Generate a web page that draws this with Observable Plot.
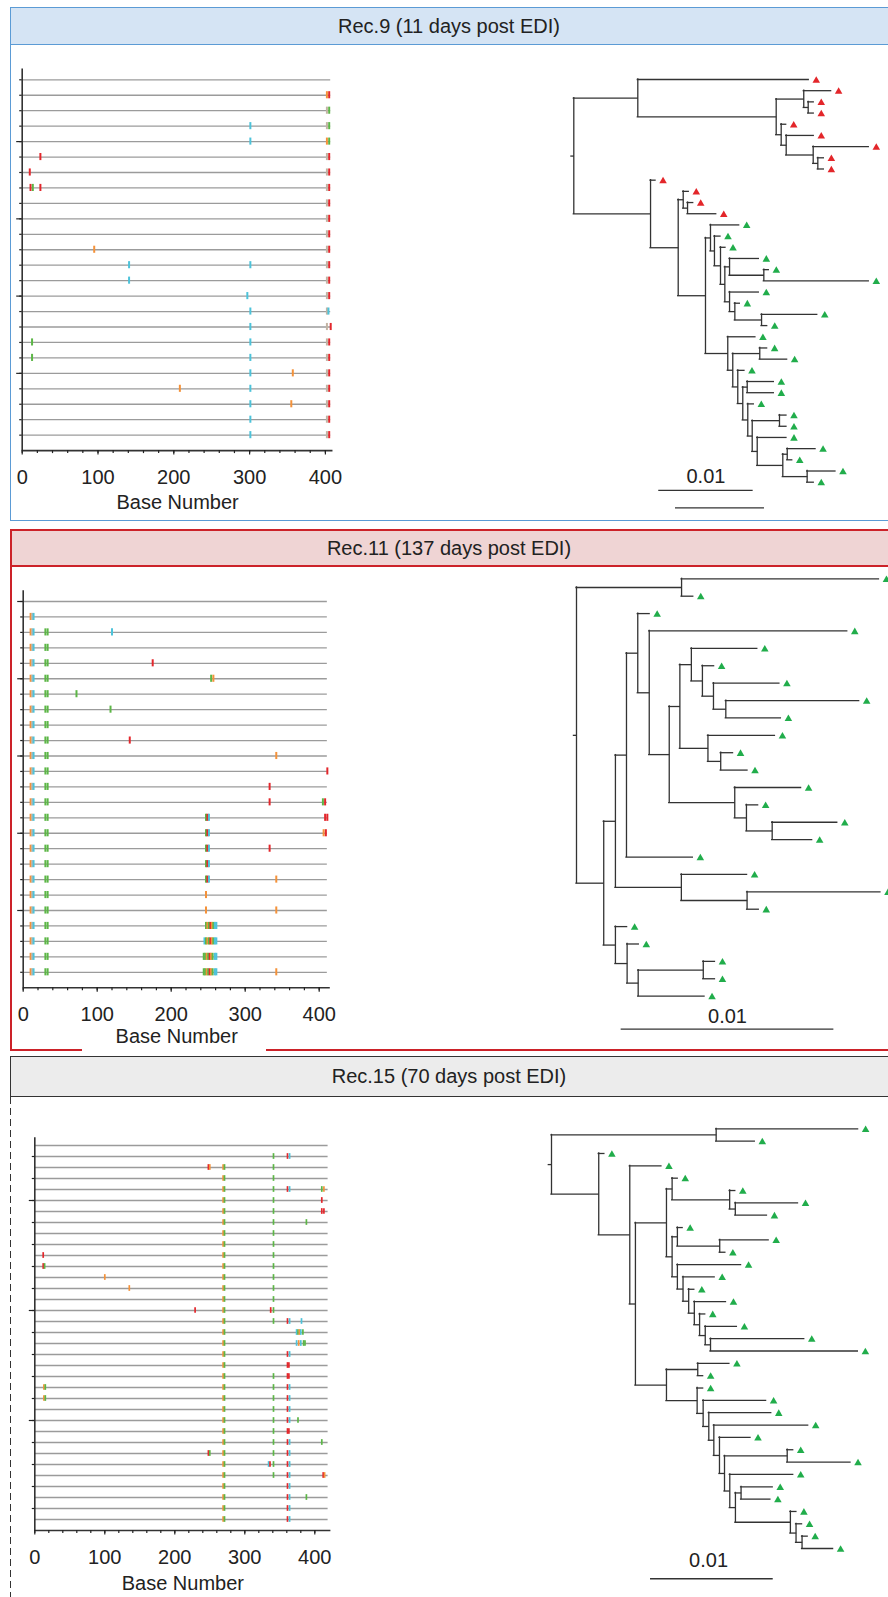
<!DOCTYPE html>
<html><head><meta charset="utf-8">
<script src="https://cdn.jsdelivr.net/npm/d3@7"></script>
<script src="https://cdn.jsdelivr.net/npm/@observablehq/plot@0.6"></script>
<style>
body{margin:0;background:#fff;}
#page{position:relative;width:888px;height:1597px;overflow:hidden;font-family:"Liberation Sans",Arial,Helvetica,sans-serif;color:#222;background:#fff;}
.abs{position:absolute;box-sizing:border-box;}
.htxt{position:absolute;display:flex;align-items:center;justify-content:center;font-size:20px;color:#222;}
</style></head>
<body><div id="page">
<div class="abs" style="left:10px;top:7px;width:900px;height:514px;border:1.6px solid #5b9bd5;"></div>
<div class="abs" style="left:10px;top:7px;width:900px;height:38px;background:#d5e4f4;border:1.6px solid #5b9bd5;"></div>
<div class="htxt" style="left:10px;top:7px;width:878px;height:38px;">Rec.9 (11 days post EDI)</div>

<div class="abs" style="left:10px;top:529px;width:900px;height:522px;border:2px solid #cc2229;"></div>
<div class="abs" style="left:10px;top:529px;width:900px;height:38px;background:#efd4d4;border:2px solid #cc2229;"></div>
<div class="htxt" style="left:10px;top:529px;width:878px;height:38px;">Rec.11 (137 days post EDI)</div>
<div class="abs" style="left:82px;top:1046px;width:184px;height:8px;background:#fff;"></div>

<div class="abs" style="left:10px;top:1056px;width:900px;height:41px;background:#ececec;border:1.3px solid #333;"></div>
<div class="htxt" style="left:10px;top:1056px;width:878px;height:41px;">Rec.15 (70 days post EDI)</div>
<div class="abs" style="left:10px;top:1097px;width:1.3px;height:500px;background:repeating-linear-gradient(to bottom,#333 0px,#333 7px,transparent 7px,transparent 11px);"></div>
</div>
<script>
// ---------- DATA ----------
// Highlighter rows: mutation codes (type + base number), "-" = gap
const rec9Rows = [
  "", "G402 T405", "-402 A405", "C301 -402 A405", "C301 G402 A405", "T24 -402 T405",
  "T10 -402 T405", "T11 A14 T24 -402 T405", "-402 T405", "-402 T405", "-402 T405", "G95 -402 T405",
  "C141 C301 -402 T405", "C141 -402 T405", "C297 -402 T405", "C301 -402 C404", "C301 -402 T407", "A13 C301 -402 T405",
  "A13 C301 -402 T405", "C301 G357 -402 T405", "G208 C301 -402 T405", "C301 G355 -402 T405", "C301 -402 T405", "C301 -402 T405"
];
const rec11Rows = [
  "", "G10 -12 C14",
  "G10 -12 C14 A30 A33 C120", "G10 -12 C14 A30 A33", "G10 -12 C14 A30 A33 T175",
  "G10 -12 C14 A30 A33 A254 G257", "G10 -12 C14 A30 A33 A72", "G10 -12 C14 A30 A33 A118",
  "G10 -12 C14 A30 A33", "G10 -12 C14 A30 A33 T144", "G10 -12 C14 A30 A33 G342",
  "G10 -12 C14 A30 A33 T411", "G10 -12 C14 A30 A33 T333", "G10 -12 C14 A30 A33 T333 A405 T408",
  "G10 -12 C14 A30 A33 A247 T249 C251 T408 T411", "G10 -12 C14 A30 A33 A247 T249 C251 G406 T409",
  "G10 -12 C14 A30 A33 A247 T249 C251 T333", "G10 -12 C14 A30 A33 A247 T249 C251",
  "G10 -12 C14 A30 A33 A247 T249 C251 G342", "G10 -12 C14 A30 A33 G247", "G10 -12 C14 A30 A33 G247 G342",
  "G10 -12 C14 A30 A33 A247 G249 A251 T253 G255 A257 C259 C261",
  "G10 -12 C14 A30 A33 C245 A247 G249 A251 T253 G255 A257 C259 C261",
  "G10 -12 C14 A30 A33 A244 A246 G248 A250 T252 G254 A256 C259 C261",
  "G10 -12 C14 A30 A33 A244 A246 G248 A250 T252 G254 A256 C259 C261 G342"
];
const rec15Rows = [
  "", "A341 T361 C364", "T248 G250 G269 A271 A341", "G269 A271 A341",
  "G269 A271 A341 T361 C364 A410 G413", "G269 A271 A341 T410", "G269 A271 A341 T410 T413",
  "G269 A271 A341 A388", "G269 A271 A341", "G269 A271 A341", "T12 G269 A271 A341",
  "T12 A14 G269 A271 A341", "G100 G269 A271 A341", "G135 G269 A271 A341", "G269 A271 A341",
  "T229 G269 A271 T337 A341", "G269 A271 A341 T361 C364 C381", "G269 A271 C374 A376 G378 C380 A383",
  "G269 A271 C374 G377 C380 A384 A386", "G269 A271 T361 C364", "G269 A271 T361 T363",
  "G269 A271 A341 T361 T363", "G13 A15 G269 A271 A341 T361 C364", "G13 A15 G269 A271 A341 T361 C364",
  "G269 A271 A341 T361 C364", "G269 A271 A341 T361 C364 A376", "G269 A271 A341 T361 T363",
  "G269 A271 A341 T361 C364 A410", "T248 A250 G269 A271 A341 T361 C364", "G269 A271 C334 T336 A341 T361 C364",
  "G269 A271 A341 T361 C364 T412 G414", "G269 A271 T361 C364", "G269 A271 T361 C364 A388",
  "G269 A271 T361 C364", "G269 A271 T361 C364"
];
const majorTicks = [0, 100, 200, 300, 400];
const minorTicks = d3.range(0, 401, 20);
const rec9TickRows = d3.range(0, 24), rec9LongRows = [4, 9, 14, 19];
const rec11TickRows = d3.range(0, 25), rec11LongRows = [0, 5, 10, 15, 20];
const rec15TickRows = d3.range(1, 35, 2), rec15LongRows = [5, 15, 25];

// Trees (Newick, branch lengths in units of 0.001 substitutions/site; r = red, g = green tip)
const rec9Tree = "((r:18.11,((r:2.90,(r:0.59,r:0.59):0.47):2.92,(r:0.53,(r:2.92,(r:5.89,(r:0.64,r:0.64):0.49):2.86):0.53):0.53):14.66):6.78,(r:0.53,((r:0.59,(r:0.60,r:3.04):0.46):0.53,((g:3.04,(g:0.64,(g:0.53,((g:3.10,(g:0.53,g:11.12):3.63):0.50,(g:3.10,(g:0.53,(g:5.90,g:0.60):2.83):0.56):0.50):0.46):0.64):0.42):0.53,(g:2.93,((g:0.78,g:2.90):2.86,(g:0.71,((g:2.82,g:2.82):0.47,(g:0.64,((g:0.74,g:0.74):2.89,(g:3.10,((g:3.00,g:0.53):0.47,(g:3.00,g:0.70):2.58):2.71):0.53):0.47):0.53):0.53):0.53):0.53):2.36):2.89):2.93):8.13);";
const rec11Tree = "((g:9.28,g:0.55):4.94,((((g:0.56,(g:9.31,(((g:3.10,(g:0.55,(g:3.10,(g:6.27,g:2.59):0.58):0.52):0.52):0.54,(g:3.15,(g:0.58,g:1.26):0.60):1.32):0.50,(g:3.12,(g:0.55,(g:3.06,g:1.88):1.21):0.55):3.08):0.94):0.54):0.53,g:3.12):0.52,(g:3.09,(g:6.27,g:0.55):3.09):3.10):0.55,(g:0.55,(g:0.55,((g:0.55,g:0.55):3.06,g:3.12):0.52):0.55):0.55):1.28);";
const rec15Tree = "((g:11.57,g:3.15):13.42,(g:0.46,(g:2.58,(((g:0.46,(g:0.46,(g:5.11,g:2.58):0.46):4.69):0.46,((g:0.43,(g:3.99,g:0.46):3.45):0.43,(g:5.19,(g:2.58,(g:0.46,(g:2.58,(g:0.46,(g:2.58,(g:7.64,g:12.01):0.43):0.46):0.43):0.46):0.46):0.46):0.43):0.46):2.53,((g:2.58,g:0.44):2.55,(g:0.49,(g:5.13,(g:5.09,(g:7.69,(g:2.53,((g:0.49,g:5.16):5.11,(g:5.17,((g:2.58,g:2.39):0.46,(g:0.49,(g:0.49,(g:0.46,g:2.53):0.49):0.46):4.48):0.46):0.43):0.41):0.46):0.41):0.46):0.49):2.50):2.53):0.46):2.53):3.85);";
const scaleBarValue = "0.01";

// ---------- DRAWING ----------
const FONT = '"Liberation Sans", Arial, Helvetica, sans-serif';
const TYPE_COLORS = {A: "#5cb646", C: "#4dc3da", G: "#f4923a", T: "#e3272c", "-": "#c2b4a4"};
const page = document.getElementById("page");
function place(svg, left, top) {
  svg.style.position = "absolute"; svg.style.left = left + "px"; svg.style.top = top + "px";
  page.appendChild(svg);
}
function parseMuts(rows) {
  const out = [];
  rows.forEach((s, i) => s.split(/\s+/).filter(Boolean).forEach(t => out.push({row: i, type: t[0], base: +t.slice(1)})));
  return out;
}
function highlighter(c) {
  const n = c.rows.length, muts = parseMuts(c.rows), top0 = -0.7;
  const mL = c.axisPx - c.left;
  const mR = c.width - (mL + c.axisLen * c.ppb);
  const mT = c.row0Px - c.top + top0 * c.rowStep;
  const mB = c.height - (c.row0Px - c.top + n * c.rowStep);
  const svg = Plot.plot({
    width: c.width, height: c.height, marginLeft: mL, marginRight: mR, marginTop: mT, marginBottom: mB,
    x: {domain: [0, c.axisLen]}, y: {domain: [top0, n], reverse: true}, color: {type: "identity"},
    style: {fontFamily: FONT, fontSize: "20px", color: "#222", background: "transparent", overflow: "visible"},
    marks: [
      Plot.ruleY(d3.range(n), {y: d => d, x1: 0, x2: c.seqLen, stroke: "#9b9b9b", strokeWidth: 1.3}),
      Plot.ruleX(muts, {x: "base", y1: d => d.row - c.tickHalf, y2: d => d.row + c.tickHalf, stroke: d => TYPE_COLORS[d.type], strokeWidth: c.mutWidth}),
      Plot.ruleX([0], {stroke: "#333", strokeWidth: 1.6}),
      Plot.ruleY([n], {stroke: "#333", strokeWidth: 1.6}),
      Plot.axisX({ticks: minorTicks, tickSize: 3, tickFormat: () => "", label: null, strokeWidth: 1.2}),
      Plot.axisX({ticks: majorTicks, tickSize: 4.5, tickPadding: 15, label: null, fontSize: 20, strokeWidth: 1.2}),
      Plot.axisY({ticks: c.yTicks, tickSize: 2.5, tickFormat: () => "", label: null, strokeWidth: 1.2}),
      Plot.axisY({ticks: c.yLong, tickSize: 5.5, tickFormat: () => "", label: null, strokeWidth: 1.2}),
      Plot.text(["Base Number"], {text: d => d, frameAnchor: "bottom", lineAnchor: "middle", dy: c.labelDy, fontSize: 20, fill: "#222"})
    ]
  });
  place(svg, c.left, c.top);
}
function parseNewick(s) {
  let i = 0;
  function node() {
    const nd = {children: []};
    if (s[i] === "(") {
      i++; nd.children.push(node());
      while (s[i] === ",") { i++; nd.children.push(node()); }
      i++;
    }
    let name = "";
    while (i < s.length && !",():;".includes(s[i])) name += s[i++];
    nd.name = name.trim();
    nd.length = 0;
    if (s[i] === ":") { i++; let num = ""; while (i < s.length && !",();".includes(s[i])) num += s[i++]; nd.length = +num; }
    return nd;
  }
  return node();
}
function tree(c) {
  const root = parseNewick(c.newick);
  const nodes = [], leaves = [];
  (function walk(nd, x) { nd.x = x; nodes.push(nd);
    if (nd.children.length) nd.children.forEach(ch => walk(ch, x + ch.length));
    else { nd.y = leaves.length; leaves.push(nd); } })(root, 0);
  (function setY(nd) { if (nd.children.length) { nd.children.forEach(setY);
    nd.y = (nd.children[0].y + nd.children[nd.children.length - 1].y) / 2; } })(root);
  const hSeg = [], vSeg = [];
  nodes.forEach(nd => {
    nd.children.forEach(ch => hSeg.push({x1: nd.x, x2: ch.x, y: ch.y}));
    if (nd.children.length) vSeg.push({x: nd.x, y1: nd.children[0].y, y2: nd.children[nd.children.length - 1].y});
  });
  hSeg.push({x1: -c.stub, x2: 0, y: root.y});
  const n = leaves.length;
  const x0 = c.rootPx - c.left, y0 = c.leaf0Px - c.top;
  const svg = Plot.plot({
    width: c.width, height: c.height, margin: 0,
    x: {domain: [0, 10], range: [x0, x0 + 10 * c.ppu], axis: null},
    y: {domain: [0, n - 1], range: [y0, y0 + (n - 1) * c.leafStep], axis: null},
    style: {fontFamily: FONT, fontSize: "20px", color: "#222", background: "transparent", overflow: "visible"},
    marks: [
      Plot.ruleY(hSeg, {x1: "x1", x2: "x2", y: "y", stroke: "#333", strokeWidth: 1.3, strokeLinecap: "square"}),
      Plot.ruleX(vSeg, {x: "x", y1: "y1", y2: "y2", stroke: "#333", strokeWidth: 1.3, strokeLinecap: "square"}),
      Plot.dot(leaves.filter(d => d.name === "r"), {x: "x", y: "y", symbol: "triangle", r: 2.8, fill: "#e3262a", stroke: "none", dx: 7.5, dy: 1}),
      Plot.dot(leaves.filter(d => d.name === "g"), {x: "x", y: "y", symbol: "triangle", r: 2.8, fill: "#21ad4b", stroke: "none", dx: 7.5, dy: 1}),
      Plot.ruleY(c.bars, {x1: "x1", x2: "x2", y: "y", stroke: "#333", strokeWidth: 1.3}),
      Plot.text([c.label], {x: "x", y: "y", text: () => scaleBarValue, fontSize: 20, fill: "#222"})
    ]
  });
  place(svg, c.left, c.top);
}

highlighter({rows: rec9Rows, left: 0, top: 50, width: 345, height: 470, axisPx: 21.7, ppb: 0.758, axisLen: 410, seqLen: 407,
  row0Px: 79.3, rowStep: 15.45, yTicks: rec9TickRows, yLong: rec9LongRows, tickHalf: 0.23, mutWidth: 2, labelDy: 51.5});
highlighter({rows: rec11Rows, left: 0, top: 570, width: 345, height: 480, axisPx: 22.7, ppb: 0.74, axisLen: 415, seqLen: 411,
  row0Px: 601, rowStep: 15.45, yTicks: rec11TickRows, yLong: rec11LongRows, tickHalf: 0.23, mutWidth: 2, labelDy: 49});
highlighter({rows: rec15Rows, left: 0, top: 1100, width: 345, height: 497, axisPx: 34.3, ppb: 0.70, axisLen: 423, seqLen: 419,
  row0Px: 1145, rowStep: 11, yTicks: rec15TickRows, yLong: rec15LongRows, tickHalf: 0.26, mutWidth: 1.7, labelDy: 52.7});

tree({newick: rec9Tree, left: 540, top: 50, width: 348, height: 470, rootPx: 573.3, ppu: 9.44, leaf0Px: 79, leafStep: 11.186, stub: 0.25,
  bars: [{x1: 9.0, x2: 19.0, y: 36.74}, {x1: 10.77, x2: 20.2, y: 38.29}], label: {x: 14.0, y: 35.49}});
tree({newick: rec11Tree, left: 540, top: 570, width: 348, height: 475, rootPx: 576, ppu: 21.27, leaf0Px: 578.3, leafStep: 17.39, stub: 0.12,
  bars: [{x1: 2.10, x2: 12.10, y: 25.9}], label: {x: 7.1, y: 25.17}});
tree({newick: rec15Tree, left: 520, top: 1100, width: 368, height: 497, rootPx: 551, ppu: 12.27, leaf0Px: 1128.3, leafStep: 12.344, stub: 0.22,
  bars: [{x1: 8.07, x2: 18.07, y: 36.45}], label: {x: 12.8, y: 34.97}});
</script>
</body></html>
